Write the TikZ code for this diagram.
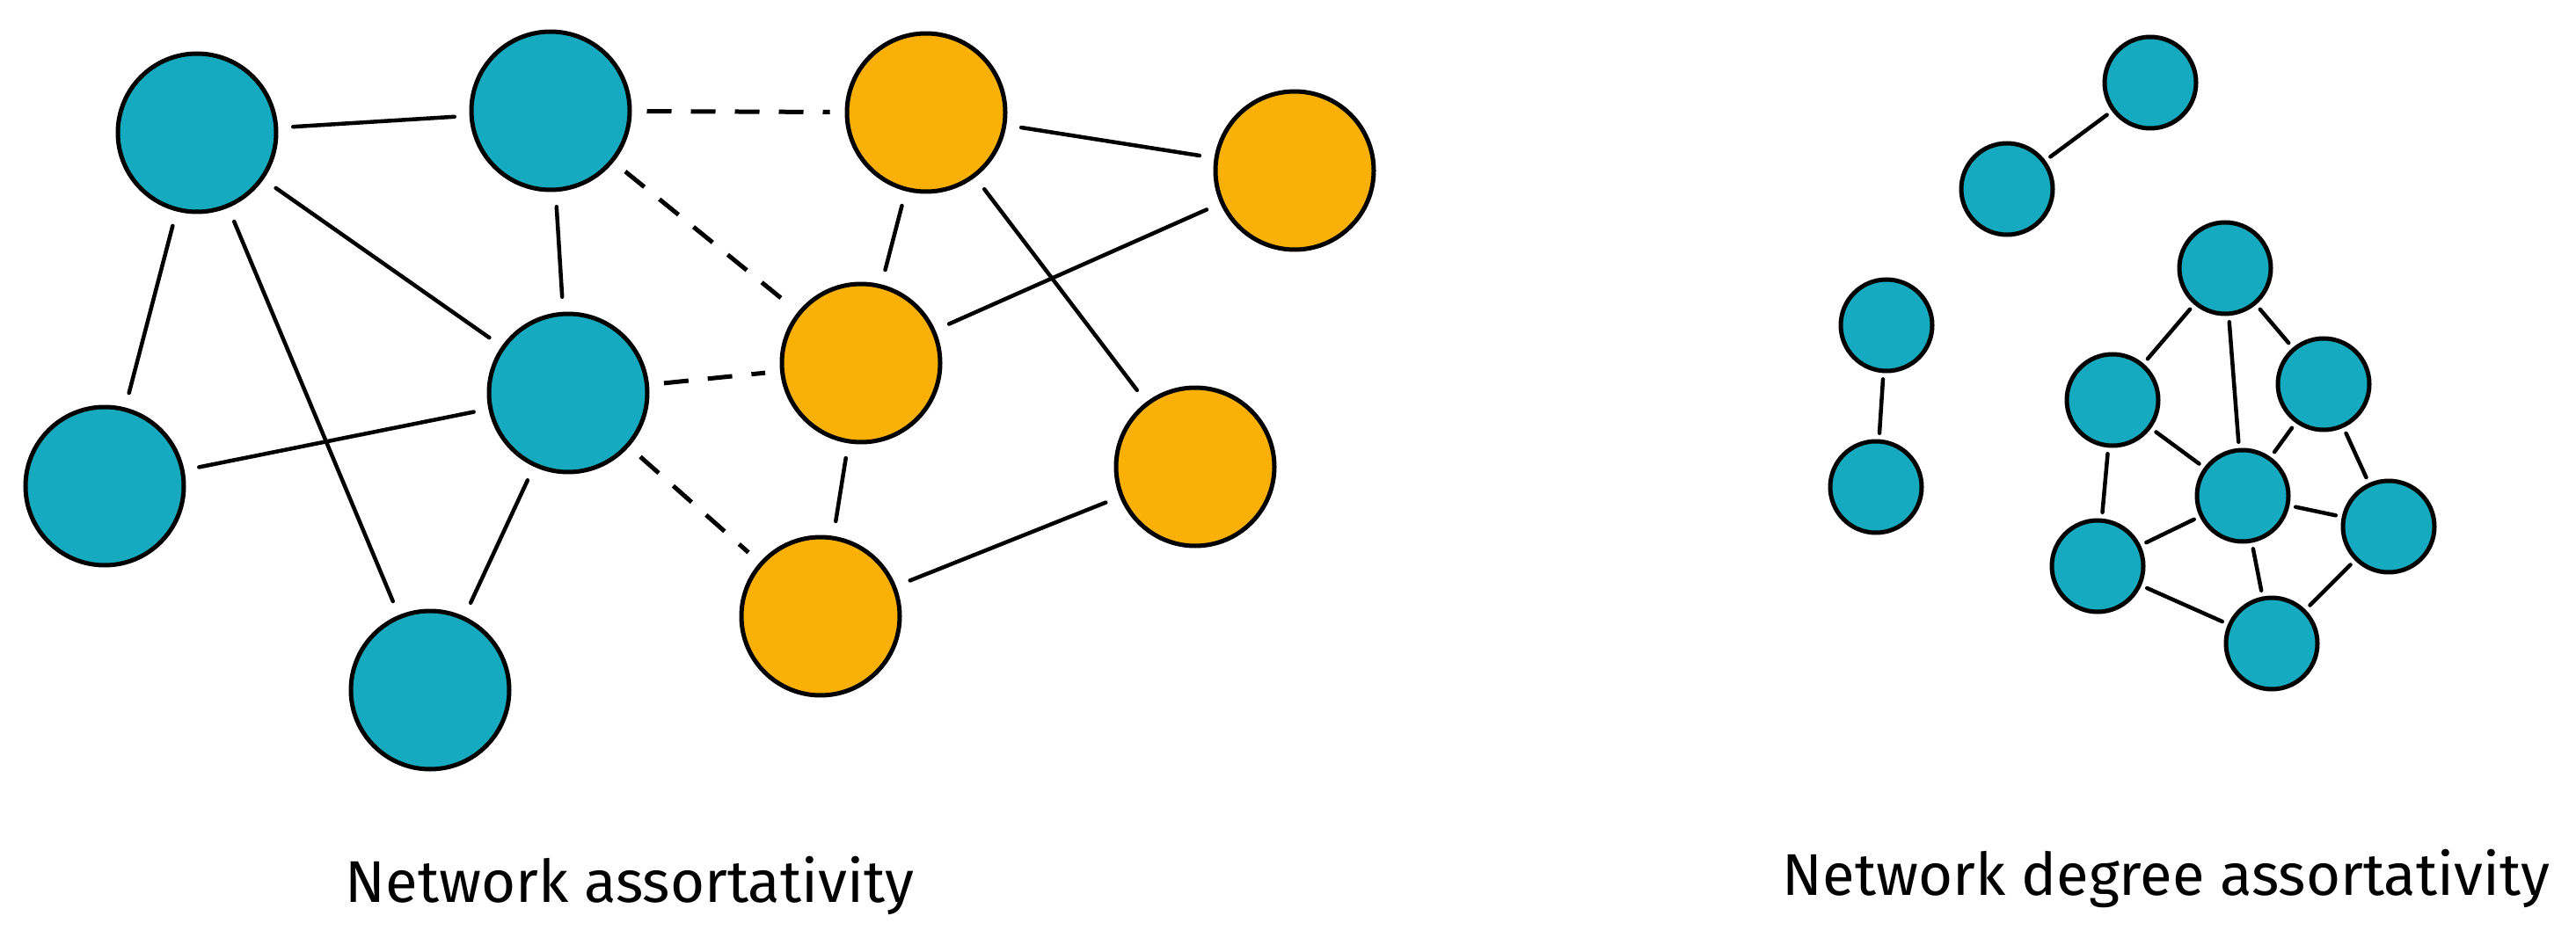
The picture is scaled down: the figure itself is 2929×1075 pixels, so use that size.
\documentclass[tikz,border=0pt]{standalone}
\usepackage{fontspec}
\setmainfont{Fira Sans}
\definecolor{tealc}{HTML}{15AABF}
\definecolor{amber}{HTML}{FAB005}
\begin{document}
\begin{tikzpicture}[x=1pt,y=-1pt,
  bignode/.style={circle,draw=black,line width=5pt,minimum size=180pt,inner sep=0pt},
  tnode/.style={bignode,fill=tealc},
  onode/.style={bignode,fill=amber},
  snode/.style={circle,draw=black,line width=5pt,minimum size=104pt,inner sep=0pt,fill=tealc},
  link/.style={line width=4.5pt,shorten <=17pt,shorten >=17pt,line cap=round},
  slink/.style={link,shorten <=7pt,shorten >=7pt},
  dlink/.style={link,line width=5pt,dash pattern=on 28pt off 22pt,line cap=butt},
  lbl/.style={anchor=base,inner sep=0pt}
]
\useasboundingbox (0,0) rectangle (2929,1075);
% left network
\node[tnode] (A) at (224,151) {};
\node[tnode] (B) at (626,126) {};
\node[tnode] (C) at (646,447) {};
\node[tnode] (D) at (119,553) {};
\node[tnode] (E) at (489,785) {};
\node[onode] (F) at (1053,128) {};
\node[onode] (G) at (1472,194) {};
\node[onode] (H) at (979,413) {};
\node[onode] (I) at (1359,531) {};
\node[onode] (J) at (933,701) {};
\draw[link] (A) -- (B);
\draw[link] (A) -- (C);
\draw[link] (A) -- (D);
\draw[link] (A) -- (E);
\draw[link] (B) -- (C);
\draw[link] (C) -- (D);
\draw[link] (C) -- (E);
\draw[dlink] (B) -- (F);
\draw[dlink] (B) -- (H);
\draw[dlink] (C) -- (H);
\draw[dlink] (C) -- (J);
\draw[link] (F) -- (G);
\draw[link] (F) -- (H);
\draw[link] (F) -- (I);
\draw[link] (H) -- (G);
\draw[link] (H) -- (J);
\draw[link] (J) -- (I);
% right network
\node[snode] (a) at (2445,94) {};
\node[snode] (b) at (2282,215) {};
\node[snode] (c) at (2145,370) {};
\node[snode] (d) at (2133,554) {};
\node[snode] (e) at (2530,305) {};
\node[snode] (f) at (2402,455) {};
\node[snode] (g) at (2642,437) {};
\node[snode] (h) at (2550,564) {};
\node[snode] (i) at (2385,644) {};
\node[snode] (j) at (2716,599) {};
\node[snode] (k) at (2583,732) {};
\draw[slink] (a) -- (b);
\draw[slink] (c) -- (d);
\draw[slink] (e) -- (f);
\draw[slink] (e) -- (h);
\draw[slink] (e) -- (g);
\draw[slink] (f) -- (h);
\draw[slink] (f) -- (i);
\draw[slink] (h) -- (i);
\draw[slink] (h) -- (g);
\draw[slink] (h) -- (j);
\draw[slink] (h) -- (k);
\draw[slink] (i) -- (k);
\draw[slink] (g) -- (j);
\draw[slink] (j) -- (k);
% labels
\node[lbl,font=\fontsize{67}{78}\selectfont] (t1) at (716,1026) {Network assortativity};
\node[lbl,font=\fontsize{67}{78}\selectfont] (t2) at (2463,1018) {Network degree assortativity};
\end{tikzpicture}
\end{document}
